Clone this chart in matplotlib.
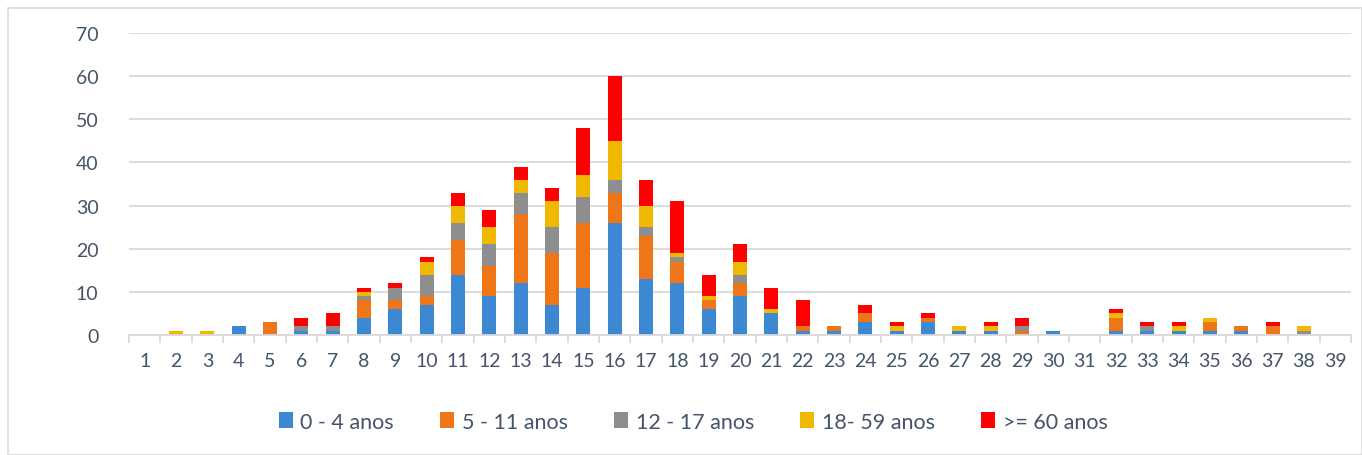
import numpy as np
import matplotlib
matplotlib.use("Agg")
import matplotlib.pyplot as plt
from matplotlib.patches import Rectangle

weeks = list(range(1, 40))
labels = ['0 - 4 anos', '5 - 11 anos', '12 - 17 anos', '18- 59 anos', '>= 60 anos']

age_0_4 = [0, 0, 0, 2, 0, 1, 1, 4, 6, 7, 14, 9, 12, 7, 11, 26, 13, 12, 6, 9,
           5, 1, 1, 3, 1, 3, 1, 1, 0, 1, 0, 1, 1, 1, 1, 1, 0, 0, 0]
age_5_11 = [0, 0, 0, 0, 3, 0, 0, 4, 2, 2, 8, 7, 16, 12, 15, 7, 10, 5, 2, 3,
            0, 1, 1, 2, 0, 1, 0, 0, 1, 0, 0, 3, 0, 0, 2, 1, 2, 0, 0]
age_12_17 = [0, 0, 0, 0, 0, 1, 1, 1, 3, 5, 4, 5, 5, 6, 6, 3, 2, 1, 0, 2,
             0, 0, 0, 0, 0, 0, 0, 0, 1, 0, 0, 0, 1, 0, 0, 0, 0, 1, 0]
age_18_59 = [0, 1, 1, 0, 0, 0, 0, 1, 0, 3, 4, 4, 3, 6, 5, 9, 5, 1, 1, 3,
             1, 0, 0, 0, 1, 0, 1, 1, 0, 0, 0, 1, 0, 1, 1, 0, 0, 1, 0]
age_60 = [0, 0, 0, 0, 0, 2, 3, 1, 1, 1, 3, 4, 3, 3, 11, 15, 6, 12, 5, 4,
          5, 6, 0, 2, 1, 1, 0, 1, 2, 0, 0, 1, 1, 1, 0, 0, 1, 0, 0]

series = [age_0_4, age_5_11, age_12_17, age_18_59, age_60]
colors = ['#3D88D2', '#EE7619', '#8E8E8E', '#F0B800', '#FF0000']

plt.rcParams['font.family'] = ['Lato', 'DejaVu Sans']
txt = '#44546A'
grid_c = '#D9D9D9'

fig = plt.figure(figsize=(13.62, 4.56), dpi=100)
ax = fig.add_axes([129 / 1362, 120 / 456, 1222 / 1362, 302 / 456])

bottom = np.zeros(len(weeks))
for vals, col, lab in zip(series, colors, labels):
    ax.bar(weeks, vals, width=0.45, bottom=bottom, color=col, label=lab, zorder=3)
    bottom += np.array(vals)

ax.set_xlim(0.5, 39.5)
ax.set_ylim(0, 70)
ax.set_yticks(range(0, 71, 10))
ax.set_xticks(weeks)
ax.set_xticks(np.arange(0.5, 40, 1), minor=True)
ax.tick_params(axis='x', which='major', length=0, pad=12, labelsize=14, labelcolor=txt)
ax.tick_params(axis='x', which='minor', length=6, width=1.3, color=grid_c)
ax.tick_params(axis='y', length=0, pad=22, labelsize=14, labelcolor=txt)

ax.grid(axis='y', color=grid_c, lw=1.3, zorder=0)
for s in ['top', 'right', 'left']:
    ax.spines[s].set_visible(False)
ax.spines['bottom'].set_color(grid_c)
ax.spines['bottom'].set_linewidth(1.3)
ax.spines['bottom'].set_zorder(4)

fig.legend(loc='center', bbox_to_anchor=(0.509, 0.073), ncol=5, frameon=False,
           fontsize=15.5, labelcolor=txt, handlelength=0.65, handleheight=0.8,
           handletextpad=0.35, columnspacing=2.15)

fig.patches.append(Rectangle((8 / 1362, 0), 1 - 8 / 1362, 1 - 9 / 456,
                             transform=fig.transFigure, fill=False,
                             edgecolor=grid_c, lw=1.2))

fig.savefig('out.png', dpi=100)
